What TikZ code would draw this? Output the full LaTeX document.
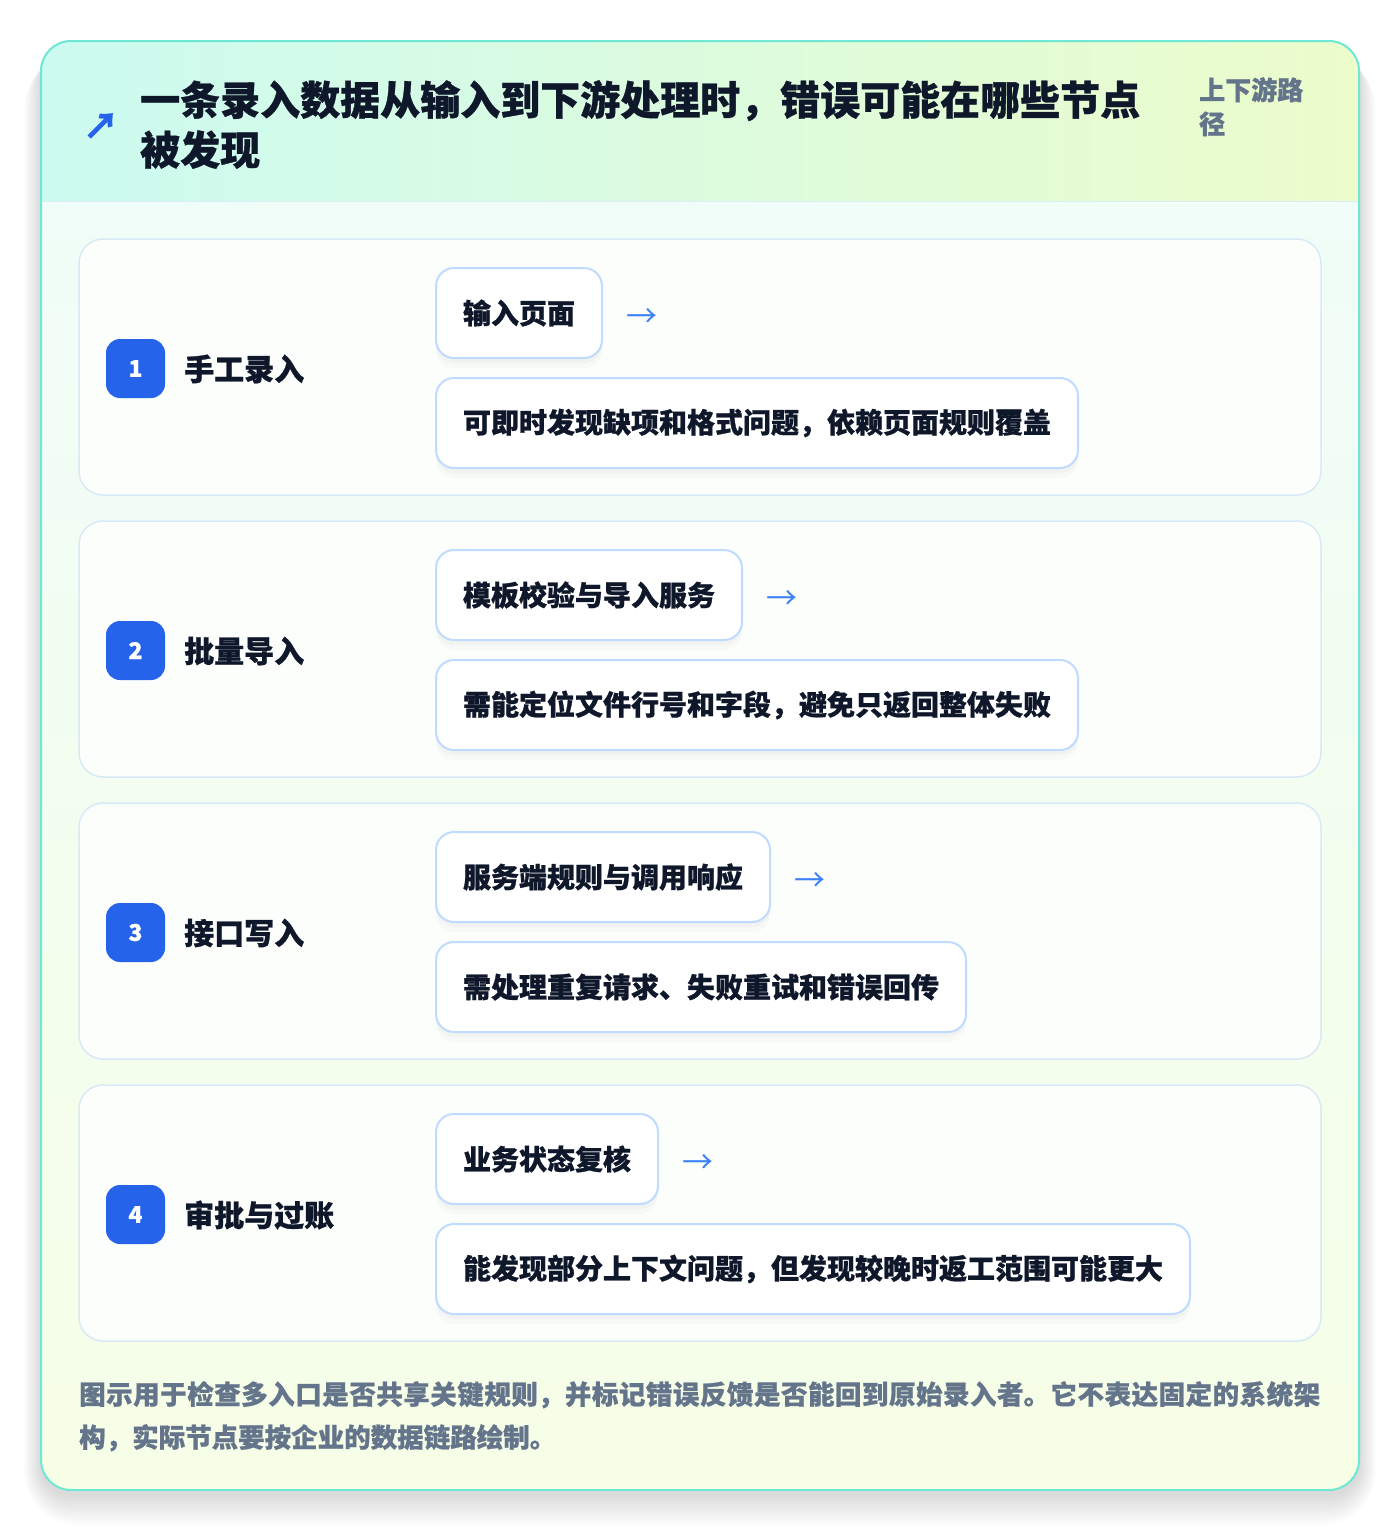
\documentclass[tikz,border=0pt]{standalone}
\usepackage{fontspec}
\setmainfont{Noto Sans CJK SC}[BoldFeatures={FakeBold=0.8}]
\usetikzlibrary{shadows}
\definecolor{cardedge}{HTML}{6EE7D4}
\definecolor{hdl}{HTML}{CCFBF1}
\definecolor{hdr}{HTML}{ECFCCB}
\definecolor{bodyt}{HTML}{F0FDF8}
\definecolor{bodyb}{HTML}{F6FEE6}
\definecolor{sepc}{HTML}{DCEEF5}
\definecolor{rowedge}{HTML}{D8EAF6}
\definecolor{rowfill}{HTML}{FCFEFC}
\definecolor{boxedge}{HTML}{BFDBFE}
\definecolor{badgec}{HTML}{2563EB}
\definecolor{ink}{HTML}{0F172A}
\definecolor{muted}{HTML}{64748B}
\definecolor{arrowc}{HTML}{3B82F6}
\tikzset{
  rowcard/.style={draw=rowedge, line width=1.5pt, fill=rowfill, rounded corners=24pt},
  badge/.style={fill=badgec, rounded corners=14pt, minimum width=59pt, minimum height=59pt,
    inner sep=0pt, text=white, font=\fontsize{23}{23}\selectfont\bfseries},
  rowlabel/.style={anchor=west, inner sep=0pt, text=ink, font=\fontsize{30}{30}\selectfont\bfseries},
  stepbox/.style={draw=boxedge, line width=2pt, fill=white, rounded corners=18pt, anchor=north west,
    minimum height=90pt, inner xsep=27pt, inner ysep=0pt, text=ink,
    font=\fontsize{28}{28}\selectfont\bfseries,
    general shadow={fill=black, fill opacity=0.018, draw=none, shadow yshift=-10pt},
    general shadow={fill=black, fill opacity=0.025, draw=none, shadow yshift=-5pt}},
  flowarrow/.style={anchor=west, inner sep=0pt, text=arrowc, font=\fontsize{31}{31}\selectfont},
}
\begin{document}
\begin{tikzpicture}[x=1pt,y=-1pt]
\useasboundingbox (0,0) rectangle (1400,1534);
\fill[white] (0,0) rectangle (1400,1534);
% card shadow
\foreach \k in {1,...,12} {
  \fill[black, fill opacity=0.011, rounded corners=30pt+\k*2pt]
    (41-\k*1.4, 48+\k*0.6) rectangle (1359+\k*1.4, 1494+\k*2.6);
}
\begin{scope}
  \clip[rounded corners=30pt] (41,41) rectangle (1359,1490);
  \shade[left color=hdl, right color=hdr] (41,41) rectangle (1359,201);
  \shade[top color=bodyt, bottom color=bodyb] (41,201) rectangle (1359,1490);
\end{scope}
\draw[sepc, line width=1.5pt] (41,201.5) -- (1359,201.5);
\draw[cardedge, line width=2pt, rounded corners=30pt] (41,41) rectangle (1359,1490);
% header
\node[text=badgec, inner sep=0pt, font=\fontsize{36}{36}\selectfont\bfseries] (icon) at (101,126) {↗};
\node[anchor=north west, inner sep=0pt, align=left, text=ink, font=\fontsize{40}{50}\selectfont\bfseries]
  (title) at (140,80) {一条录入数据从输入到下游处理时，错误可能在哪些节点\\被发现};
\node[anchor=north west, inner sep=0pt, align=left, text=muted, font=\fontsize{26}{34}\selectfont\bfseries]
  (side) at (1199,77) {上下游路\\径};
% rows
\foreach \n/\lab/\ba/\bb [count=\i] in {
  1/手工录入/输入页面/可即时发现缺项和格式问题，依赖页面规则覆盖,
  2/批量导入/模板校验与导入服务/需能定位文件行号和字段，避免只返回整体失败,
  3/接口写入/服务端规则与调用响应/需处理重复请求、失败重试和错误回传,
  4/审批与过账/业务状态复核/能发现部分上下文问题，但发现较晚时返工范围可能更大} {
  \pgfmathsetmacro\yy{239+282*(\i-1)}
  \path[rowcard] (79,\yy) rectangle (1321,\yy+256);
  \node[badge] (bd\i) at (135.5,\yy+129.5) {\n};
  \node[rowlabel] (lb\i) at (184,\yy+130) {\lab};
  \node[stepbox] (ba\i) at (435,\yy+28) {\ba};
  \node[flowarrow] (ar\i) at ([xshift=23pt,yshift=-5pt]ba\i.east) {→};
  \node[stepbox] (bb\i) at (435,\yy+138) {\bb};
}
% footer
\node[anchor=north west, inner sep=0pt, text width=1241pt, align=justify, text=muted,
  font=\fontsize{26.5}{43}\selectfont\bfseries] (foot) at (79,1381)
  {\XeTeXlinebreaklocale "zh"\XeTeXlinebreakskip=0pt plus 4pt 图示用于检查多入口是否共享关键规则，并标记错误反馈是否能回到原始录入者。它不表达固定的系统架\linebreak 构，实际节点要按企业的数据链路绘制。};
\end{tikzpicture}
\end{document}
